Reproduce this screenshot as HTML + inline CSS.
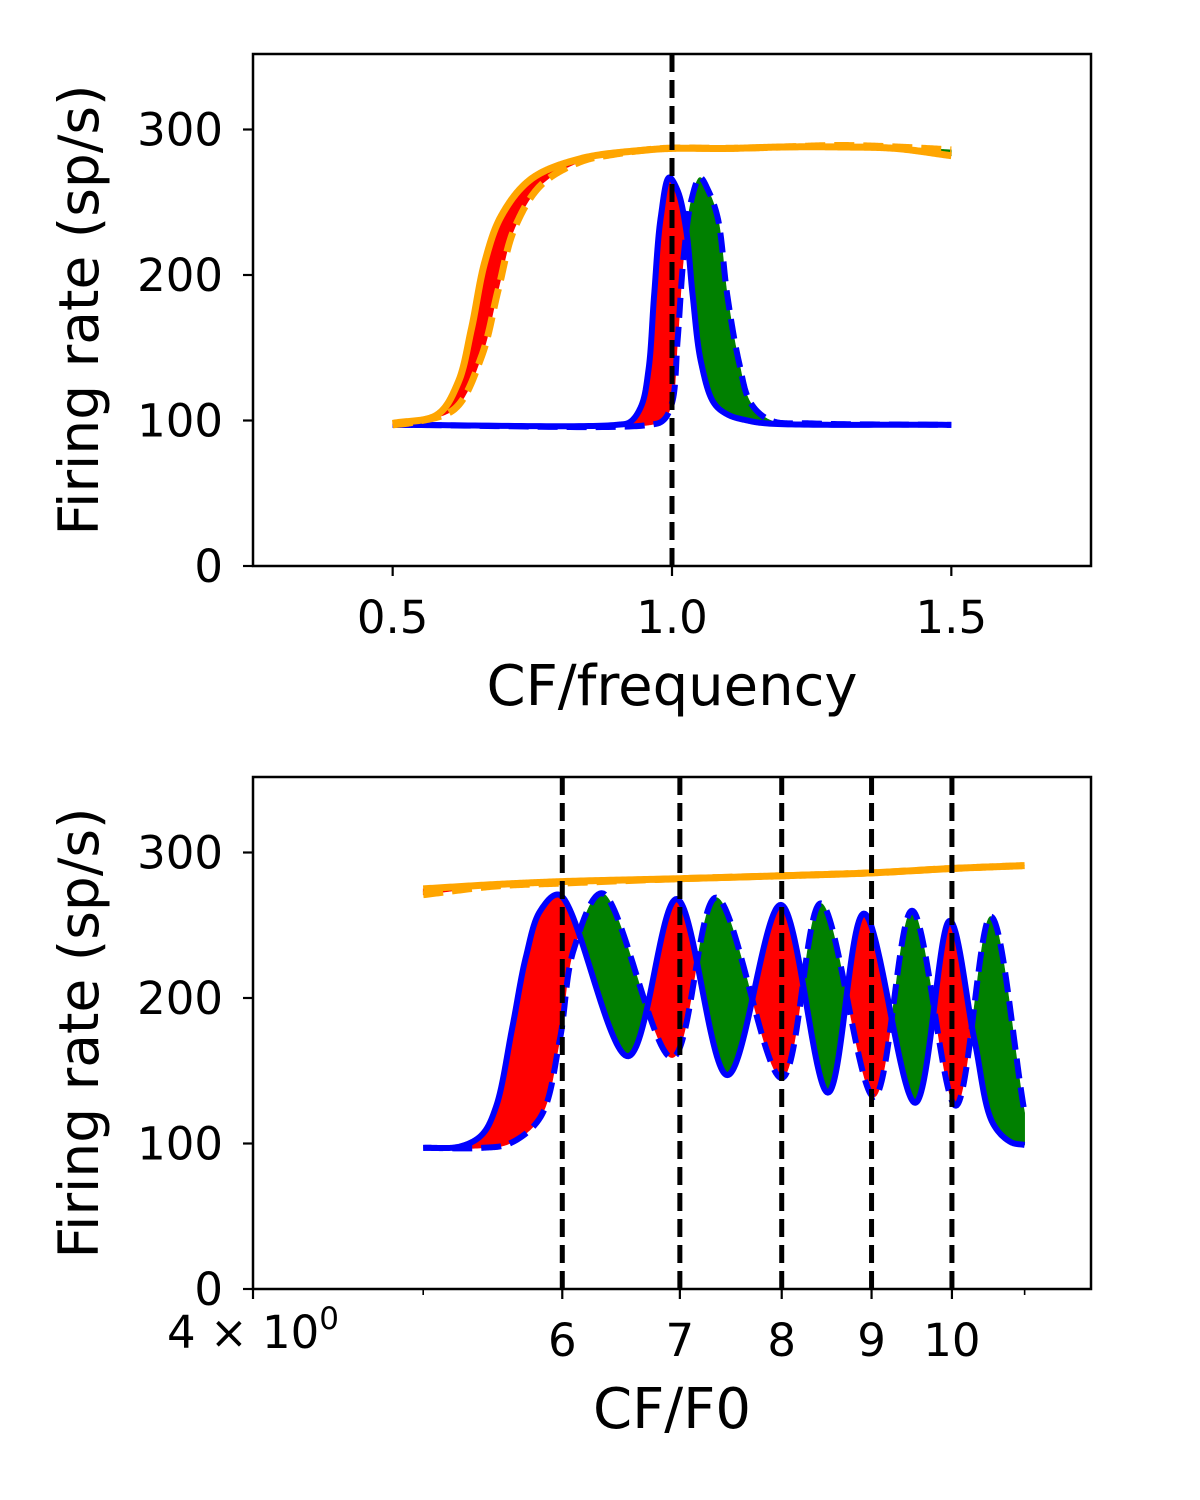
<!DOCTYPE html>
<html><head><meta charset="utf-8">
<style>
html,body{margin:0;padding:0;background:#fff;}
svg{display:block;font-family:"DejaVu Sans","Liberation Sans",sans-serif;}
</style></head>
<body>
<svg id="fig" width="1200" height="1500" viewBox="0 0 1200 1500" xmlns="http://www.w3.org/2000/svg">
<rect width="1200" height="1500" fill="#fff"/>
<g id="top"></g>
<g id="bot"></g>
</svg>
<script>
// ---------- TOP PANEL DATA ----------
const topBlueSolidX = [0.5,0.9,0.925,0.945,0.958,0.968,0.98,0.995,1.01,1.025,1.037,1.052,1.075,1.1,1.135,1.17,1.5];
const topBlueSolidY = [97,97,99,110,135,186,240,267,258,232,186,140,112,104,100,98,97];
const topBlueDashX = [0.5,0.96,0.984,1.0,1.01,1.021,1.035,1.05,1.065,1.082,1.099,1.12,1.141,1.177,1.25,1.5];
const topBlueDashY = [97,97,100,112,155,213,252,267,258,239,186,140,112,100,98,97];
const topOrangeSolidX = [0.5,0.58,0.617,0.641,0.665,0.695,0.748,0.837,0.957,1.0,1.1,1.2,1.3,1.4,1.5];
const topOrangeSolidY = [98,104,126,163,209,241,266,280,286,287,287,288,288,287,282];
const topOrangeDashX = [0.5,0.539,0.611,0.659,0.689,0.718,0.766,0.837,0.897,0.986,1.1,1.2,1.3,1.4,1.5];
const topOrangeDashY = [97,99,108,144,190,232,262,278,283,287,287,288,289,288,286];
const topVLines = [1.0];
const topXTicks = [0.5,1.0,1.5];
const topXTickLabels = ["0.5","1.0","1.5"];
const yTicks = [0,100,200,300];
const yTickLabels = ["0","100","200","300"];

// ---------- BOTTOM PANEL DATA ----------
const botBlueSolidX = [5.0,5.25,5.4,5.5,5.62,5.72,5.83,5.975,6.54,6.97,7.45,7.99,8.5,8.91,9.53,9.97,10.3,10.55,10.8,11.0];
const botBlueSolidY = [97,98,106,125,180,228,260,271,160,268,147,264,135,258,128,253,171,114,101,99];
const botBlueDashX = [5.0,5.4,5.6,5.83,5.98,6.09,6.32,6.93,7.34,8.0,8.42,9.03,9.49,10.05,10.52,11.0];
const botBlueDashY = [97,97,100,118,171,233,272,159,269,145,265,132,260,126,256,121];
const botOrangeSolidX = [5.0,5.5,6,7,8,9,10,11];
const botOrangeSolidY = [275,278,280,282,284,286,289,291];
const botOrangeDashX = [5.0,5.5,6,7,8,9,10,11];
const botOrangeDashY = [271,277,279,282,284,286,289,291];
const botVLines = [6,7,8,9,10];
const botXTicks = [6,7,8,9,10];
const botXTickLabels = ["6","7","8","9","10"];
const botMinorTicks = [5,11];

const NS = "http://www.w3.org/2000/svg";
function mk(tag, attrs, parent){
  const e = document.createElementNS(NS, tag);
  for (const k in attrs) e.setAttribute(k, attrs[k]);
  parent.appendChild(e); return e;
}
function crDense(P){
  const out=[]; const n=P.length;
  const ext=[[2*P[0][0]-P[1][0],2*P[0][1]-P[1][1]],...P,[2*P[n-1][0]-P[n-2][0],2*P[n-1][1]-P[n-2][1]]];
  const td=(a,b)=>Math.pow(Math.hypot(b[0]-a[0],b[1]-a[1])||1e-6,0.5);
  for(let i=1;i<ext.length-2;i++){
    const p0=ext[i-1],p1=ext[i],p2=ext[i+1],p3=ext[i+2];
    const t0=0,t1=t0+td(p0,p1),t2=t1+td(p1,p2),t3=t2+td(p2,p3);
    const S=40;
    for(let s=(i===1?0:1);s<=S;s++){
      const t=t1+(t2-t1)*s/S;
      const L=(a,b,ta,tb)=>[(tb-t)/(tb-ta)*a[0]+(t-ta)/(tb-ta)*b[0],(tb-t)/(tb-ta)*a[1]+(t-ta)/(tb-ta)*b[1]];
      const A1=L(p0,p1,t0,t1),A2=L(p1,p2,t1,t2),A3=L(p2,p3,t2,t3);
      const B1=L(A1,A2,t0,t2),B2=L(A2,A3,t1,t3);
      out.push(L(B1,B2,t1,t2));
    }
  }
  return out;
}
function interpFn(pts){
  return function(x){
    let lo=0,hi=pts.length-1;
    if(x<=pts[0][0]) return pts[0][1];
    if(x>=pts[hi][0]) return pts[hi][1];
    while(hi-lo>1){const m=(lo+hi)>>1; if(pts[m][0]<=x) lo=m; else hi=m;}
    const a=pts[lo],b=pts[hi],t=(x-a[0])/((b[0]-a[0])||1e-9);
    return a[1]+(b[1]-a[1])*t;
  };
}
function curvePts(P,xs,ys){
  const d=crDense(xs.map((x,i)=>[P.sx(x),P.sy(ys[i])]));
  const r=[d[0]];
  for(let i=1;i<d.length;i++){ if(d[i][0]>r[r.length-1][0]) r.push(d[i]); }
  return r;
}

function panel(g, sx, sy, L, R, T, B){ return {sx, sy, L, R, T, B, g}; }

function drawPanel(P, series, fills, vlines, xticks, xlabels, minor, xLabelText){
  const g = P.g;
  const clipId = "clip"+P.T;
  const cp = mk("clipPath",{id:clipId},g);
  mk("rect",{x:P.L,y:P.T,width:P.R-P.L,height:P.B-P.T},cp);
  const plot = mk("g",{"clip-path":"url(#"+clipId+")"},g);
  fills.forEach(f=>{
    const pa=curvePts(P,f.ax,f.ay), pb=curvePts(P,f.bx,f.by);
    const fa=interpFn(pa), fb=interpFn(pb);
    const x0=Math.max(pa[0][0],pb[0][0]), x1=Math.min(pa[pa.length-1][0],pb[pb.length-1][0]);
    const N=900, pts=[];
    for (let i=0;i<=N;i++){ const x=x0+(x1-x0)*i/N; pts.push([x,fa(x),fb(x)]); }
    let run=[pts[0]], sign=Math.sign(pts[0][2]-pts[0][1]);
    const flush=(r,s)=>{
      if (r.length<2 || s===0) return;
      let d="M"+r.map(p=>p[0].toFixed(2)+","+p[1].toFixed(2)).join("L");
      d+="L"+r.slice().reverse().map(p=>p[0].toFixed(2)+","+p[2].toFixed(2)).join("L")+"Z";
      const p = mk("path",{d, fill: s>0 ? f.colorA : f.colorB, stroke: s>0 ? f.colorA : f.colorB, "stroke-width":0.6},plot);
      
      
    };
    for (let i=1;i<pts.length;i++){
      const s=Math.sign(pts[i][2]-pts[i][1]);
      if (s!==sign && s!==0){
        const a=pts[i-1], b=pts[i];
        const da=a[2]-a[1], db=b[2]-b[1], t=da/(da-db);
        const cx=a[0]+(b[0]-a[0])*t, cy=a[1]+(b[1]-a[1])*t;
        run.push([cx,cy,cy]); flush(run,sign);
        run=[[cx,cy,cy]]; sign=s;
      }
      run.push(pts[i]);
    }
    flush(run,sign);
  });
  series.forEach(s=>{
    const pts=curvePts(P,s.x,s.y);
    const d="M"+pts.map(p=>p[0].toFixed(2)+","+p[1].toFixed(2)).join("L");
    const p = mk("path",{d, fill:"none", stroke:s.color, "stroke-width":s.w, "stroke-dasharray":s.dash||"none","stroke-linejoin":"round"},plot);
    
    
  });
  vlines.forEach(v=>{
    const x=P.sx(v);
    const l = mk("line",{x1:x,x2:x,y1:P.T,y2:P.B,stroke:"#000","stroke-width":5,"stroke-dasharray":"18,8"},plot);
    
    
  });
  const fr = mk("rect",{x:P.L,y:P.T,width:P.R-P.L,height:P.B-P.T,fill:"none",stroke:"#000","stroke-width":2.5},g);
  
  
  yTicks.forEach((v,i)=>{
    const y=P.sy(v);
    mk("line",{x1:P.L-10,x2:P.L,y1:y,y2:y,stroke:"#000","stroke-width":2.2},g);
    const t = mk("text",{x:P.L-30,y:y+16,"font-size":45,"text-anchor":"end",fill:"#000"},g);
    t.textContent=yTickLabels[i];
    
    
  });
  xticks.forEach((v,i)=>{
    const x=P.sx(v);
    mk("line",{x1:x,x2:x,y1:P.B,y2:P.B+10,stroke:"#000","stroke-width":2.2},g);
    const t = mk("text",{x:x,y:P.B+67,"font-size":45,"text-anchor":"middle",fill:"#000"},g);
    t.textContent=xlabels[i];
    
    
  });
  (minor||[]).forEach(v=>{
    const x=P.sx(v);
    mk("line",{x1:x,x2:x,y1:P.B,y2:P.B+6,stroke:"#000","stroke-width":1.6},g);
  });
  const yl = mk("text",{x:0,y:0,"font-size":55,"text-anchor":"middle",fill:"#000",transform:"translate(98,"+((P.T+P.B)/2)+") rotate(-90)"},g);
  yl.textContent="Firing rate (sp/s)";
  
  
  const xl = mk("text",{x:(P.L+P.R)/2,y:P.B+139,"font-size":56,"text-anchor":"middle",fill:"#000"},g);
  xl.textContent=xLabelText;
  
  
}

const topP = panel(document.getElementById("top"),
  x=>253+(x-0.25)/1.5*838, y=>566-y*1.455, 253,1091,54,566);
const botP = panel(document.getElementById("bot"),
  x=>253+Math.log(x/4)/Math.log(3)*838, y=>1289-y*1.455, 253,1091,777,1289);

const BLUE="#0000ff", ORANGE="#ffa500", RED="#ff0000", GREEN="#008000";

drawPanel(topP,
 [
  {x:topBlueSolidX,y:topBlueSolidY,color:BLUE,w:6,name:"top-blue-solid-curve"},
  {x:topBlueDashX,y:topBlueDashY,color:BLUE,w:6,dash:"20,9",name:"top-blue-dashed-curve"},
  {x:topOrangeDashX,y:topOrangeDashY,color:ORANGE,w:7,dash:"20,9",name:"top-orange-dashed-curve"},
  {x:topOrangeSolidX,y:topOrangeSolidY,color:ORANGE,w:7,name:"top-orange-solid-curve"}
 ],
 [
  {ax:topBlueSolidX,ay:topBlueSolidY,bx:topBlueDashX,by:topBlueDashY,colorA:RED,colorB:GREEN,nameA:"top-blue-red-fill",nameB:"top-blue-green-fill"},
  {ax:topOrangeSolidX,ay:topOrangeSolidY,bx:topOrangeDashX,by:topOrangeDashY,colorA:RED,colorB:GREEN,nameA:"top-orange-red-fill",nameB:"top-orange-green-fill"}
 ],
 topVLines, topXTicks, topXTickLabels, [], "CF/frequency");

drawPanel(botP,
 [
  {x:botOrangeDashX,y:botOrangeDashY,color:ORANGE,w:7,dash:"20,9",name:"bottom-orange-dashed-curve"},
  {x:botOrangeSolidX,y:botOrangeSolidY,color:ORANGE,w:7,name:"bottom-orange-solid-curve"},
  {x:botBlueSolidX,y:botBlueSolidY,color:BLUE,w:6,name:"bottom-blue-solid-curve"},
  {x:botBlueDashX,y:botBlueDashY,color:BLUE,w:6,dash:"20,9",name:"bottom-blue-dashed-curve"}
 ],
 [
  {ax:botBlueSolidX,ay:botBlueSolidY,bx:botBlueDashX,by:botBlueDashY,colorA:RED,colorB:GREEN,nameA:"bottom-blue-red-fill",nameB:"bottom-blue-green-fill"},
  {ax:botOrangeSolidX,ay:botOrangeSolidY,bx:botOrangeDashX,by:botOrangeDashY,colorA:RED,colorB:GREEN,nameA:"bottom-orange-red-fill",nameB:"bottom-orange-green-fill"}
 ],
 botVLines, botXTicks, botXTickLabels, botMinorTicks, "CF/F0");

(function(){
  const g=document.getElementById("bot");
  const x=botP.sx(4);
  mk("line",{x1:x,x2:x,y1:1289,y2:1299,stroke:"#000","stroke-width":2.2},g);
  const t=mk("text",{x:x,y:1348,"font-size":45,fill:"#000","text-anchor":"middle"},g);
  
  
  t.textContent="4 \u00d7 10";
  const s=mk("tspan",{dy:-19,"font-size":31},t);
  s.textContent="0";
})();
</script>
</body></html>
